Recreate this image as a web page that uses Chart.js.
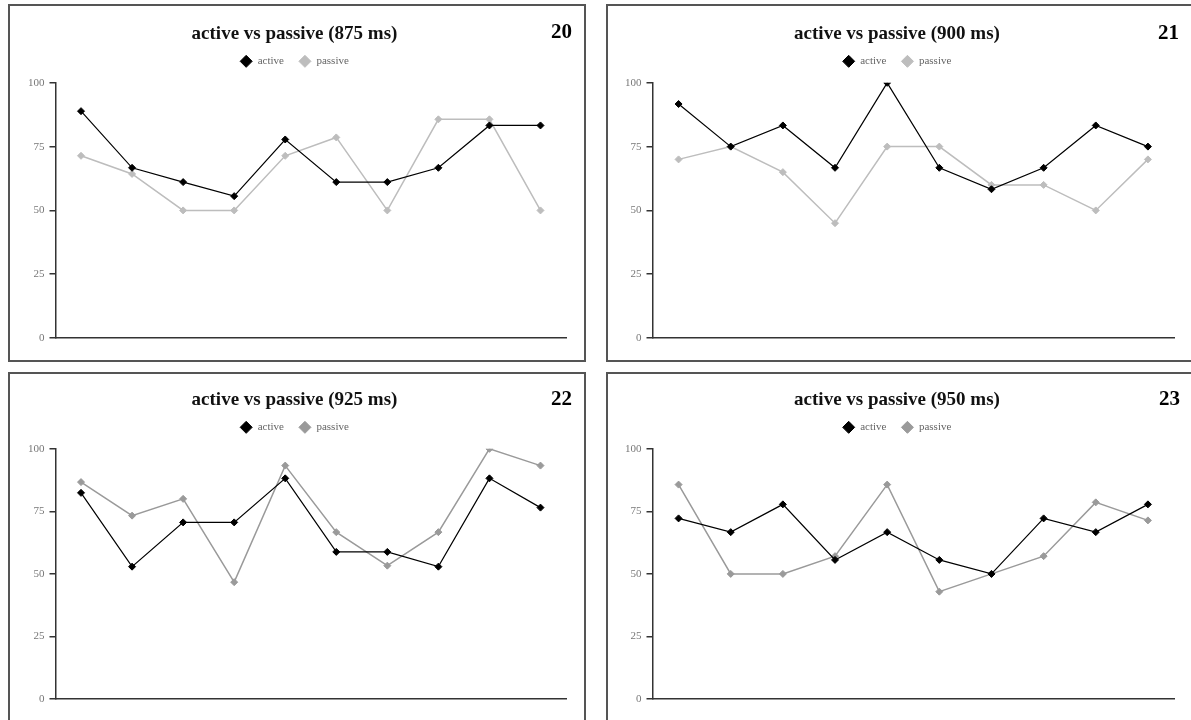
<!DOCTYPE html>
<html>
<head>
<meta charset="utf-8">
<script src="https://cdn.jsdelivr.net/npm/chart.js@4.4.1/dist/chart.umd.min.js"></script>
<style>
  html, body { margin: 0; padding: 0; background: #fff; overflow: hidden; }
  body { width: 1191px; height: 720px; position: relative; }
  .panel { position: absolute; border: 2px solid #555; background: #fff; }
  .panel canvas { position: absolute; left: 0; top: 0; }
  .num { position: absolute; font-family: 'Liberation Serif', serif; font-weight: bold;
         font-size: 21px; color: #000; line-height: 1; }
</style>
</head>
<body>
<div class="panel" id="p0" style="left:8px; top:4px; width:574px; height:354px;"><canvas id="c0" width="574" height="354"></canvas><div class="num" style="right:12px; top:15px;">20</div></div>
<div class="panel" id="p1" style="left:606px; top:4px; width:584px; height:354px;"><canvas id="c1" width="584" height="354"></canvas><div class="num" style="right:13px; top:16px;">21</div></div>
<div class="panel" id="p2" style="left:8px; top:372px; width:574px; height:354px;"><canvas id="c2" width="574" height="354"></canvas><div class="num" style="right:12px; top:14px;">22</div></div>
<div class="panel" id="p3" style="left:606px; top:372px; width:584px; height:354px;"><canvas id="c3" width="584" height="354"></canvas><div class="num" style="right:12px; top:14px;">23</div></div>

<script>
// ten trials per panel, no labels shown on the x axis
var categories = ['1', '2', '3', '4', '5', '6', '7', '8', '9', '10'];
var yTicks = [0, 25, 50, 75, 100];

var titles = [
    'active vs passive (875 ms)',
    'active vs passive (900 ms)',
    'active vs passive (925 ms)',
    'active vs passive (950 ms)'
];

var active875  = [88.9, 66.7, 61.1, 55.6, 77.8, 61.1, 61.1, 66.7, 83.3, 83.3];
var passive875 = [71.4, 64.3, 50.0, 50.0, 71.4, 78.6, 50.0, 85.7, 85.7, 50.0];

var active900  = [91.7, 75.0, 83.3, 66.7, 100.0, 66.7, 58.3, 66.7, 83.3, 75.0];
var passive900 = [70.0, 75.0, 65.0, 45.0, 75.0, 75.0, 60.0, 60.0, 50.0, 70.0];

var active925  = [82.4, 52.9, 70.6, 70.6, 88.2, 58.8, 58.8, 52.9, 88.2, 76.5];
var passive925 = [86.7, 73.3, 80.0, 46.7, 93.3, 66.7, 53.3, 66.7, 100.0, 93.3];

var active950  = [72.2, 66.7, 77.8, 55.6, 66.7, 55.6, 50.0, 72.2, 66.7, 77.8];
var passive950 = [85.7, 50.0, 50.0, 57.1, 85.7, 42.9, 50.0, 57.1, 78.6, 71.4];

var activeSeries  = [active875, active900, active925, active950];
var passiveSeries = [passive875, passive900, passive925, passive950];
var passiveColors = ['#bdbdbd', '#bdbdbd', '#9a9a9a', '#9a9a9a'];
var leftPads      = [13, 12, 13, 12];
var bottomPads    = [14, 14, 21, 21];
var topPads       = [2, 2, 0, 0];

var serif = "'Liberation Serif', 'Times New Roman', serif";

function makeDataset(label, values, color, width) {
    return {
        label: label,
        data: values,
        borderColor: color,
        backgroundColor: color,
        pointBackgroundColor: color,
        pointBorderColor: color,
        pointStyle: 'rectRot',
        pointRadius: 3.5,
        pointBorderWidth: 1,
        borderWidth: width,
        tension: 0,
        fill: false
    };
}

for (var i = 0; i < 4; i++) {
    var ctx = document.getElementById('c' + i).getContext('2d');
    new Chart(ctx, {
        type: 'line',
        data: {
            labels: categories,
            datasets: [
                makeDataset('active', activeSeries[i], '#000', 1.2),
                makeDataset('passive', passiveSeries[i], passiveColors[i], 1.5)
            ]
        },
        options: {
            responsive: false,
            animation: false,
            events: [],
            layout: { padding: { left: leftPads[i], right: 18, top: topPads[i], bottom: bottomPads[i] } },
            plugins: {
                tooltip: { enabled: false },
                title: {
                    display: true,
                    text: titles[i],
                    color: '#111',
                    font: { family: serif, size: 19, weight: 'bold', lineHeight: 1.07 },
                    padding: { top: 15.5, bottom: -3 }
                },
                legend: {
                    display: true,
                    labels: {
                        usePointStyle: true,
                        pointStyleWidth: 12,
                        boxHeight: 8.5,
                        color: '#666',
                        padding: 15,
                        font: { family: serif, size: 11 }
                    }
                }
            },
            scales: {
                x: {
                    type: 'category',
                    offset: true,
                    grid: { display: false },
                    border: { display: true, color: '#333', width: 1.5 },
                    ticks: { display: false }
                },
                // empty spacer between the legend and the plot
                xTop: {
                    type: 'category',
                    position: 'top',
                    grid: { display: false },
                    border: { display: false },
                    ticks: { display: false },
                    afterFit: function(scale) { scale.height = 6; }
                },
                y: {
                    min: 0,
                    max: 100,
                    afterBuildTicks: function(scale) {
                        scale.ticks = yTicks.map(function(v) { return { value: v }; });
                    },
                    grid: { display: true, drawOnChartArea: false, drawTicks: true,
                            tickLength: 6, color: '#333', lineWidth: 1.5 },
                    border: { display: true, color: '#333', width: 1.5 },
                    ticks: { color: '#777', padding: 5, font: { family: serif, size: 11 } }
                }
            }
        }
    });
}
</script>
</body>
</html>
